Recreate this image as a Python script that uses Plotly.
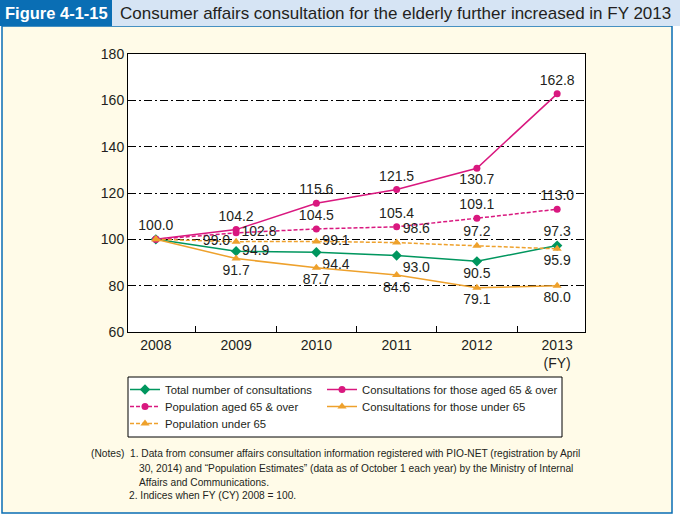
import plotly.graph_objects as go

YEARS = ["2008", "2009", "2010", "2011", "2012", "2013"]
YEAR_TICKS = ["2008", "2009", "2010", "2011", "2012", "2013<br>(FY)"]

TOTAL = [100.0, 94.9, 94.4, 93.0, 90.5, 97.3]
CONS_65_OVER = [100.0, 104.2, 115.6, 121.5, 130.7, 162.8]
POP_65_OVER = [100.0, 102.8, 104.5, 105.4, 109.1, 113.0]
CONS_UNDER_65 = [100.0, 91.7, 87.7, 84.6, 79.1, 80.0]
POP_UNDER_65 = [100.0, 99.0, 99.1, 98.6, 97.2, 95.9]

NAMES = [
    "Total number of consultations",
    "Consultations for those aged 65 & over",
    "Population aged 65 & over",
    "Consultations for those under 65",
    "Population under 65",
]

GREEN = "#00965e"
MAGENTA = "#d9187f"
ORANGE = "#eea12c"
TEXT = "#231f20"

W, H = 680, 518
L, R, T, B = 128, 585, 54, 332


def px(x):
    return (x - L) / (R - L)


def py(y):
    return (B - y) / (B - T)


def labels(vals, show):
    return [f"{v:.1f}" if s else "" for v, s in zip(vals, show)]


series = [
    # values, colour, dash, symbol, which labels to show, label positions
    (TOTAL, GREEN, "solid", "diamond", [0, 1, 1, 1, 1, 1],
     ["top center", "middle right", "bottom right", "bottom right", "bottom center", "top center"]),
    (CONS_65_OVER, MAGENTA, "solid", "circle", [1, 1, 1, 1, 1, 1],
     ["top center", "top center", "top center", "top center", "bottom center", "top center"]),
    (POP_65_OVER, MAGENTA, "dash", "circle", [0, 1, 1, 1, 1, 1],
     ["top center", "middle right", "top center", "top center", "top center", "top center"]),
    (CONS_UNDER_65, ORANGE, "solid", "triangle-up", [0, 1, 1, 1, 1, 1],
     ["top center", "bottom center", "bottom center", "bottom center", "bottom center", "bottom center"]),
    (POP_UNDER_65, ORANGE, "dash", "triangle-up", [0, 1, 1, 1, 1, 1],
     ["top center", "middle left", "middle right", "top right", "top center", "bottom center"]),
]

# legend entry slots (left x of the symbol, row centre y) in page pixels
LEGEND_SLOTS = [(125, 389), (322, 389), (125, 406), (322, 406), (125, 423)]

fig = go.Figure()
for i, (name, (vals, color, dash, symbol, show, pos)) in enumerate(zip(NAMES, series)):
    fig.add_trace(
        go.Scatter(
            x=YEARS,
            y=vals,
            name=name,
            legend="legend" if i == 0 else f"legend{i + 1}",
            showlegend=True,
            mode="lines+markers+text",
            line=dict(color=color, width=1.5, dash="4px,2px" if dash == "dash" else dash),
            marker=dict(color=color, size=7 if symbol == "circle" else 8, symbol=symbol),
            text=labels(vals, show),
            textposition=pos,
            textfont=dict(size=14, color=TEXT),
            cliponaxis=False,
        )
    )

shapes = [
    # cream frame with blue border
    dict(type="rect", xref="paper", yref="paper", x0=px(2), x1=px(672), y0=py(513), y1=py(26),
         fillcolor="#fffbe8", line=dict(color="#0a6eb4", width=1.5), layer="below"),
    # title bar
    dict(type="rect", xref="paper", yref="paper", x0=px(0), x1=px(680), y0=py(26), y1=py(0),
         fillcolor="#d6e4f4", line=dict(width=0), layer="below"),
    dict(type="rect", xref="paper", yref="paper", x0=px(0), x1=px(112), y0=py(26), y1=py(0),
         fillcolor="#0a6eb4", line=dict(width=0), layer="below"),
    # white plot area
    dict(type="rect", xref="paper", yref="paper", x0=0, x1=1, y0=0, y1=1,
         fillcolor="white", line=dict(width=0), layer="below"),
    # legend box
    dict(type="rect", xref="paper", yref="paper", x0=px(128), x1=px(562), y0=py(437), y1=py(377),
         fillcolor="white", line=dict(color="black", width=1), layer="below"),
]

note_font = dict(size=10.2, color=TEXT, family="Liberation Sans, Arial, sans-serif")
annotations = [
    dict(text="<b>Figure 4-1-15</b>", x=px(56), y=py(13), xref="paper", yref="paper",
         showarrow=False, font=dict(size=16.5, color="white"), xanchor="center", yanchor="middle"),
    dict(text="Consumer affairs consultation for the elderly further increased in FY 2013",
         x=px(118), y=py(13), xref="paper", yref="paper", showarrow=False,
         font=dict(size=17, color=TEXT), xanchor="left", yanchor="middle"),
    dict(text="(Notes)", x=px(126), y=py(453), xanchor="right"),
    dict(text="1. Data from consumer affairs consultation information registered with PIO-NET (registration by April",
         x=px(128), y=py(453), xanchor="left"),
    dict(text="30, 2014) and \u201cPopulation Estimates\u201d (data as of October 1 each year) by the Ministry of Internal",
         x=px(137), y=py(468), xanchor="left"),
    dict(text="Affairs and Communications.", x=px(137), y=py(482), xanchor="left"),
    dict(text="2. Indices when FY (CY) 2008 = 100.", x=px(127), y=py(496), xanchor="left"),
]
for a in annotations[2:]:
    a.update(xref="paper", yref="paper", showarrow=False, font=note_font, yanchor="middle")

legends = {}
for i, (lx, ly) in enumerate(LEGEND_SLOTS):
    key = "legend" if i == 0 else f"legend{i + 1}"
    legends[key] = dict(
        x=px(lx),
        xanchor="left",
        y=py(ly - 14),
        yanchor="top",
        bgcolor="rgba(0,0,0,0)",
        borderwidth=0,
        font=dict(size=11.3, color=TEXT),
        visible=True,
    )

fig.update_layout(
    width=W,
    height=H,
    margin=dict(l=L, r=W - R, t=T, b=H - B, autoexpand=False),
    paper_bgcolor="white",
    plot_bgcolor="white",
    showlegend=True,
    font=dict(family="Liberation Sans, Arial, sans-serif", size=14, color=TEXT),
    shapes=shapes,
    annotations=annotations,
    **legends,
)
fig.update_xaxes(
    type="category",
    tickvals=YEARS,
    ticktext=YEAR_TICKS,
    tickson="boundaries",
    ticks="inside",
    ticklen=6,
    tickcolor="black",
    showline=True,
    linecolor="black",
    linewidth=1,
    mirror=True,
    showgrid=False,
    tickfont=dict(size=14, color=TEXT),
)
fig.update_yaxes(
    range=[60, 180],
    dtick=20,
    showline=True,
    linecolor="black",
    linewidth=1,
    mirror=True,
    showgrid=True,
    gridcolor="black",
    gridwidth=1,
    griddash="8px,3px,2px,3px",
    zeroline=False,
    ticks="",
    tickfont=dict(size=14, color=TEXT),
)

# drop the default 8px page margin so the figure sits at the window's corner
fig.write_html(
    "out.html",
    config={"displayModeBar": False},
    post_script="document.body.style.margin = '0px';",
)
